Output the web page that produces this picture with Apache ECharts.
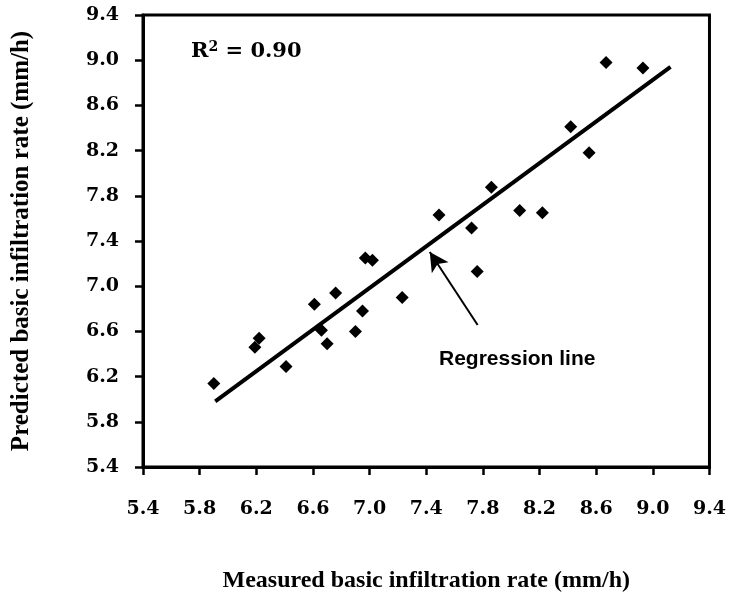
<!DOCTYPE html>
<html><head><meta charset="utf-8">
<script src="https://cdn.jsdelivr.net/npm/echarts@6/dist/echarts.min.js"></script>
<style>html,body{margin:0;padding:0;background:#fff}#c{width:729px;height:600px}</style>
</head><body><div id="c"></div>
<script>
// Measured (x) and predicted (y) basic infiltration rate, mm/h
const measured  = [5.90, 6.19, 6.22, 6.41, 6.61, 6.66, 6.70, 6.76, 6.90, 6.95, 6.97, 7.02, 7.23, 7.49, 7.72, 7.86, 8.06, 8.22, 8.42, 8.55, 8.67, 8.93, 7.76];
const predicted = [6.14, 6.46, 6.54, 6.29, 6.84, 6.61, 6.49, 6.94, 6.60, 6.78, 7.25, 7.23, 6.90, 7.63, 7.515, 7.875, 7.67, 7.65, 8.41, 8.18, 8.98, 8.93, 7.13];
// Regression line end points
const regressionX = [5.91, 9.125];
const regressionY = [5.98, 8.94];
// Annotation arrow (tail, tip) in data units
const arrowTail = [7.763, 6.657];
const arrowTip  = [7.425, 7.303];
// Axis ticks
const xTickLabels = ['5.4','5.8','6.2','6.6','7.0','7.4','7.8','8.2','8.6','9.0','9.4'];
const yTickLabels = ['5.4','5.8','6.2','6.6','7.0','7.4','7.8','8.2','8.6','9.0','9.4'];
const axisMin = 5.4, axisMax = 9.4, axisStep = 0.4;

const chart = echarts.init(document.getElementById('c'), null, {renderer: 'canvas'});
const tickFont = {color: '#000', fontFamily: 'DejaVu Serif', fontWeight: 'bold', fontSize: 19};
function labelFrom(arr) {
  return function (v) {
    const i = Math.round((v - axisMin) / axisStep);
    return arr[i] !== undefined ? arr[i] : '';
  };
}
const axisCommon = {
  type: 'value', min: axisMin, max: axisMax, interval: axisStep,
  splitLine: {show: false},
  axisLine: {show: true, lineStyle: {color: '#000', width: 3}},
  axisTick: {show: true, inside: false, length: 8, lineStyle: {color: '#000', width: 2.5}},
  nameLocation: 'middle'
};
chart.setOption({
  backgroundColor: '#fff',
  animation: false,
  grid: {left: 143, right: 17, top: 15, bottom: 133, show: true, borderColor: '#000', borderWidth: 3, backgroundColor: 'transparent'},
  xAxis: Object.assign({}, axisCommon, {
    name: 'Measured basic infiltration rate (mm/h)', nameGap: 102,
    nameTextStyle: {color: '#000', fontFamily: 'Liberation Serif', fontWeight: 'bold', fontSize: 24},
    axisLabel: Object.assign({margin: 33, formatter: labelFrom(xTickLabels)}, tickFont)
  }),
  yAxis: Object.assign({}, axisCommon, {
    name: 'Predicted basic infiltration rate (mm/h)', nameGap: 109,
    nameTextStyle: {color: '#000', fontFamily: 'Liberation Serif', fontWeight: 'bold', fontSize: 25},
    axisLabel: Object.assign({margin: 24, formatter: labelFrom(yTickLabels)}, tickFont)
  }),
  series: [
    {
      type: 'scatter', symbol: 'diamond', symbolSize: 13,
      itemStyle: {color: '#000', opacity: 1},
      emphasis: {disabled: true},
      data: measured.map((x, i) => [x, predicted[i]])
    },
    {
      type: 'line', showSymbol: false, symbol: 'none',
      lineStyle: {color: '#000', width: 4},
      data: regressionX.map((x, i) => [x, regressionY[i]]),
      markLine: {
        silent: true, symbol: ['none', 'arrow'], symbolSize: [15, 19],
        label: {show: false},
        lineStyle: {color: '#000', width: 2, type: 'solid'},
        data: [[{coord: arrowTail}, {coord: arrowTip}]]
      }
    }
  ],
  graphic: [
    {
      type: 'text', left: 191, top: 40,
      style: {
        text: '{a|R}{b|2}{a| = 0.90}',
        rich: {
          a: {fontFamily: 'DejaVu Serif', fontWeight: 'bold', fontSize: 21, color: '#000', lineHeight: 24},
          b: {fontFamily: 'DejaVu Serif', fontWeight: 'bold', fontSize: 14, color: '#000', verticalAlign: 'top', lineHeight: 14}
        }
      }
    },
    {
      type: 'text', left: 439, top: 349,
      style: {text: 'Regression line', fontFamily: 'Liberation Sans', fontWeight: 'bold', fontSize: 21, fill: '#000'}
    }
  ]
});
</script></body></html>
